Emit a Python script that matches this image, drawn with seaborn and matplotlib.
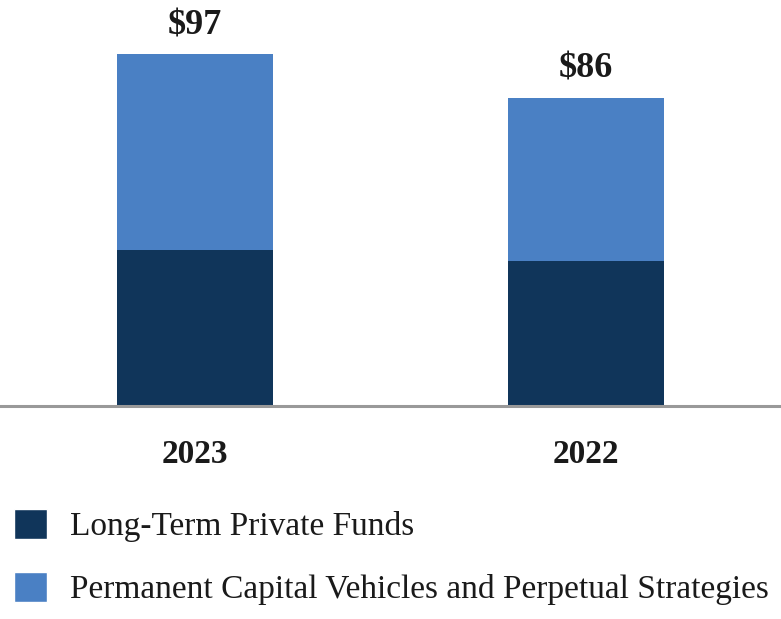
import matplotlib
matplotlib.use("Agg")
import matplotlib.pyplot as plt
from matplotlib.patches import Patch
import seaborn as sns
import pandas as pd

years = ["2023", "2022"]
long_term = [43, 40]
permanent = [54, 45]
total_labels = ["$97", "$86"]

DARK = "#10355A"
LIGHT = "#4A80C4"

sns.set_style("white")
plt.rcParams['font.family'] = ['Liberation Serif', 'DejaVu Serif']

df = pd.DataFrame({"year": years, "long_term": long_term,
                   "permanent": permanent})
df["total"] = df["long_term"] + df["permanent"]

fig = plt.figure(figsize=(7.81, 6.19), dpi=100)
ax = fig.add_axes([0, 1 - 406 / 619, 1, 406 / 619])

# stack: draw totals in light blue, then long-term on top in dark
sns.barplot(data=df, x="year", y="total", color=LIGHT, width=0.4,
            saturation=1, linewidth=0, ax=ax)
sns.barplot(data=df, x="year", y="long_term", color=DARK, width=0.4,
            saturation=1, linewidth=0, ax=ax)

for i, (t, lab) in enumerate(zip(df["total"], total_labels)):
    ax.text(i, t + 5.6, lab, ha="center", va="baseline", fontsize=26,
            fontweight="bold", color="#1a1a1a")

ax.set_xlim(-0.5, 1.5)
ax.set_ylim(0, 112)
ax.set_xlabel("")
ax.set_ylabel("")
ax.set_yticks([])
for s in ["top", "right", "left"]:
    ax.spines[s].set_visible(False)
ax.spines["bottom"].set_color("#999999")
ax.spines["bottom"].set_linewidth(2.2)
ax.tick_params(axis="x", length=0, pad=24, labelsize=24)
for lbl in ax.get_xticklabels():
    lbl.set_fontweight("bold")
    lbl.set_color("#1a1a1a")

handles = [Patch(facecolor=DARK, label="Long-Term Private Funds"),
           Patch(facecolor=LIGHT, label="Permanent Capital Vehicles and Perpetual Strategies")]
fig.legend(handles=handles, loc="upper left", bbox_to_anchor=(0.018, 0.178),
           frameon=False, fontsize=24, handlelength=1.0, handleheight=1.0,
           handletextpad=0.68, labelspacing=0.9, borderaxespad=0,
           borderpad=0, labelcolor="#1a1a1a")

fig.savefig("out.png", dpi=100)
